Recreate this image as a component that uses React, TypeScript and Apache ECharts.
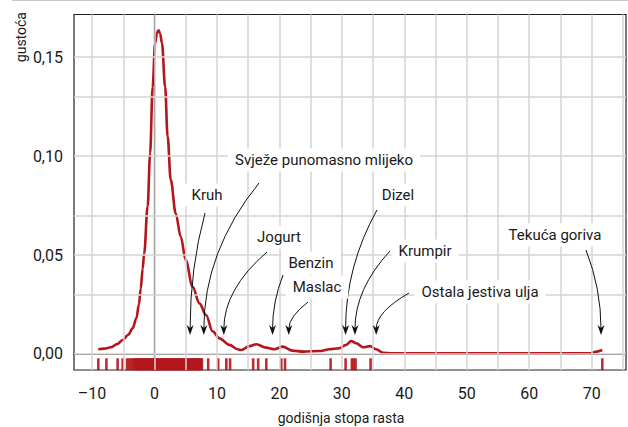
import React, { useEffect, useRef } from 'react';
import * as echarts from 'echarts';

// ---- data ----
const curveX = [
  -9.0, -8.0, -7.0, -6.0, -5.1, -4.2, -3.5, -2.9, -2.5, -2.2, -1.9, -1.65, -1.1, -0.7, -0.3,
  0.1, 0.4, 0.65, 0.9, 1.2, 1.7, 2.1, 2.6, 3.4, 4.2, 5.0, 6.1, 7.2, 8.25, 9.3, 10.4, 12.0,
  13.3, 13.9, 15.2, 16.3, 17.9, 19.2, 20.5, 22.1, 23.8, 26.4, 28.0, 29.6, 30.7, 31.5, 32.3,
  33.4, 34.5, 35.5, 36.6, 38.0, 45.0, 55.0, 65.0, 69.8, 70.8, 71.7,
];
const curveY = [
  0.0024, 0.0027, 0.0034, 0.005, 0.0071, 0.0097, 0.013, 0.018, 0.025, 0.033, 0.043, 0.051,
  0.0745, 0.1015, 0.135, 0.157, 0.1625, 0.1636, 0.162, 0.157, 0.135, 0.11, 0.088, 0.071,
  0.0593, 0.0475, 0.034, 0.0256, 0.0197, 0.0115, 0.0079, 0.0046, 0.0024, 0.002, 0.004,
  0.0049, 0.0032, 0.0024, 0.0037, 0.0017, 0.0012, 0.0015, 0.0024, 0.0029, 0.0046, 0.0066,
  0.0054, 0.0034, 0.004, 0.0024, 0.0006, 0.0003, 0.0003, 0.0003, 0.0003, 0.0004, 0.0012, 0.002,
];
const rugX = [
  -9.0, -7.7, -5.9, -5.1, -4.4, -4.1, -3.8, -3.5, -3.3, -3.1, -2.95, -2.8, -2.65, -2.5,
  -2.35, -2.2, -2.05, -1.9, -1.75, -1.6, -1.45, -1.3, -1.15, -1.0, -0.85, -0.7, -0.55, -0.4,
  -0.25, -0.1, 0.05, 0.2, 0.35, 0.5, 0.65, 0.8, 0.95, 1.1, 1.25, 1.4, 1.55, 1.7, 1.85, 2.0,
  2.15, 2.3, 2.45, 2.6, 2.75, 2.9, 3.05, 3.2, 3.35, 3.5, 3.65, 3.8, 3.95, 4.1, 4.25, 4.4,
  4.55, 4.7, 4.85, 5.0, 5.15, 5.3, 5.45, 5.6, 5.75, 5.9, 6.05, 6.2, 6.35, 6.5, 6.65, 6.8,
  6.95, 7.1, 7.25, 7.4, 7.6, 8.6, 10.2, 11.5, 12.1, 15.8, 16.6, 17.9, 20.3, 20.9, 28.2,
  30.6, 31.6, 31.9, 32.2, 34.6, 71.7,
];
const rugLevel = -0.0052;
const xTickValues = [-10, 0, 10, 20, 30, 40, 50, 60, 70];
const yTickValues = [0, 0.05, 0.1, 0.15];
const xGridValues = [-10, -5, 0, 5, 10, 15, 20, 25, 30, 35, 40, 45, 50, 55, 60, 65, 70, 75];
const yGridValues = [0, 0.025, 0.05, 0.075, 0.1, 0.125, 0.15];
const annotationLabels = [
  'Kruh', 'Svježe punomasno mlijeko', 'Jogurt', 'Benzin', 'Maslac', 'Dizel', 'Krumpir',
  'Ostala jestiva ulja', 'Tekuća goriva',
];
const annotationTargetX = [5.7, 7.9, 11.1, 18.9, 21.5, 30.6, 32.1, 35.5, 71.5];
const annotationTargetY = 0.0096;
const xAxisName = 'godišnja stopa rasta';
const yAxisName = 'gustoća';

// ---- layout (pixels) ----
const labelPos = [
  [207, 195], [324, 160], [279, 237], [311, 263], [317, 287], [398, 195], [425, 251],
  [480, 292], [555, 235],
];
const arrowStart = [
  [205, 213], [259, 183], [267, 252], [283, 275], [308, 302], [377, 210], [390, 251],
  [409, 293], [586, 250],
];

const FONT = "Roboto, 'Liberation Sans', sans-serif";
const RED = '#b3161c';

export default function App() {
  const ref = useRef<HTMLDivElement>(null);
  useEffect(() => {
    document.body.style.margin = '0';
    const chart = echarts.init(ref.current!, undefined, { renderer: 'svg' });
    const fmtX = (v: number) => (v < 0 ? '\u2013' + Math.abs(v) : String(v));
    const fmtY = (v: number) => v.toFixed(2).replace('.', ',');
    chart.setOption({
      animation: false,
      grid: {
        left: 74, right: 2, top: 14.5, bottom: 57, show: true,
        borderColor: '#222', borderWidth: 1.2, backgroundColor: 'transparent',
        outerBoundsMode: 'none', containLabel: false,
      },
      xAxis: {
        type: 'value', min: -12.89, max: 75.5,
        splitLine: { show: false },
        axisTick: { show: false },
        axisLine: { lineStyle: { color: '#222', width: 1.2 } },
        axisLabel: {
          customValues: xTickValues, formatter: fmtX, fontSize: 16, color: '#1a1a1a',
          fontFamily: FONT, margin: 15,
        },
        name: xAxisName, nameLocation: 'middle', nameGap: 41,
        nameTextStyle: { fontSize: 14, color: '#1a1a1a', fontFamily: FONT, padding: [0, 18, 0, 0] },
      },
      yAxis: {
        type: 'value', min: -0.00809, max: 0.1716,
        splitLine: { show: false },
        axisTick: { show: false },
        axisLine: { show: true, lineStyle: { color: '#222', width: 1.2 } },
        axisLabel: {
          customValues: yTickValues, formatter: fmtY, fontSize: 16, color: '#1a1a1a',
          fontFamily: FONT, margin: 11,
        },
      },
      series: [
        {
          type: 'line', data: [], z: 0, silent: true,
          markLine: {
            silent: true, symbol: ['none', 'none'], label: { show: false },
            lineStyle: { color: '#d4d4d4', width: 1.5, type: 'solid' },
            emphasis: { disabled: true },
            data: [
              ...xGridValues.map((v) => ({ xAxis: v })),
              ...yGridValues.map((v) => ({ yAxis: v })),
            ],
          },
        },
        {
          type: 'scatter', z: 2, silent: true,
          data: rugX.map((x) => [x, rugLevel]),
          symbol: 'rect', symbolSize: [2.6, 12],
          itemStyle: { color: RED, opacity: 0.9 },
        },
        {
          type: 'line', z: 3, silent: true,
          data: curveX.map((x, i) => [x, curveY[i]]),
          smooth: 0.35, smoothMonotone: 'x', showSymbol: false,
          lineStyle: { color: RED, width: 2.6 },
        },
      ],
    });

    const graphics: any[] = [
      { type: 'line', shape: { x1: 12, y1: 0.5, x2: 628, y2: 0.5 }, style: { stroke: '#c8c8c8', lineWidth: 1 } },
      {
        type: 'text', x: 21, y: 12, rotation: Math.PI / 2,
        style: { text: yAxisName, fontSize: 14, fontFamily: FONT, fill: '#1a1a1a', align: 'right', verticalAlign: 'middle' },
      },
    ];
    annotationLabels.forEach((label, i) => {
      const [tx, ty] = chart.convertToPixel({ gridIndex: 0 }, [annotationTargetX[i], annotationTargetY]) as number[];
      const [sx, sy] = arrowStart[i];
      graphics.push({
        type: 'bezierCurve', z: 10,
        shape: { x1: sx, y1: sy, x2: tx, y2: ty - 6, cpx1: tx, cpy1: sy + 0.45 * (ty - sy) },
        style: { stroke: '#111', lineWidth: 1, fill: 'none' },
      });
      graphics.push({
        type: 'polygon', z: 10,
        shape: { points: [[tx, ty], [tx - 3.5, ty - 10], [tx, ty - 7], [tx + 3.5, ty - 10]] },
        style: { fill: '#111' },
      });
      const [lx, ly] = labelPos[i];
      graphics.push({
        type: 'text', x: lx, y: ly, z: 11,
        style: {
          text: label, fontSize: 15, fontFamily: FONT, fill: '#1a1a1a', align: 'center',
          verticalAlign: 'middle', backgroundColor: '#fff', padding: [4, 7],
        },
      });
    });
    chart.setOption({ graphic: graphics });
    return () => chart.dispose();
  }, []);
  return <div ref={ref} style={{ width: 628, height: 427 }} />;
}
